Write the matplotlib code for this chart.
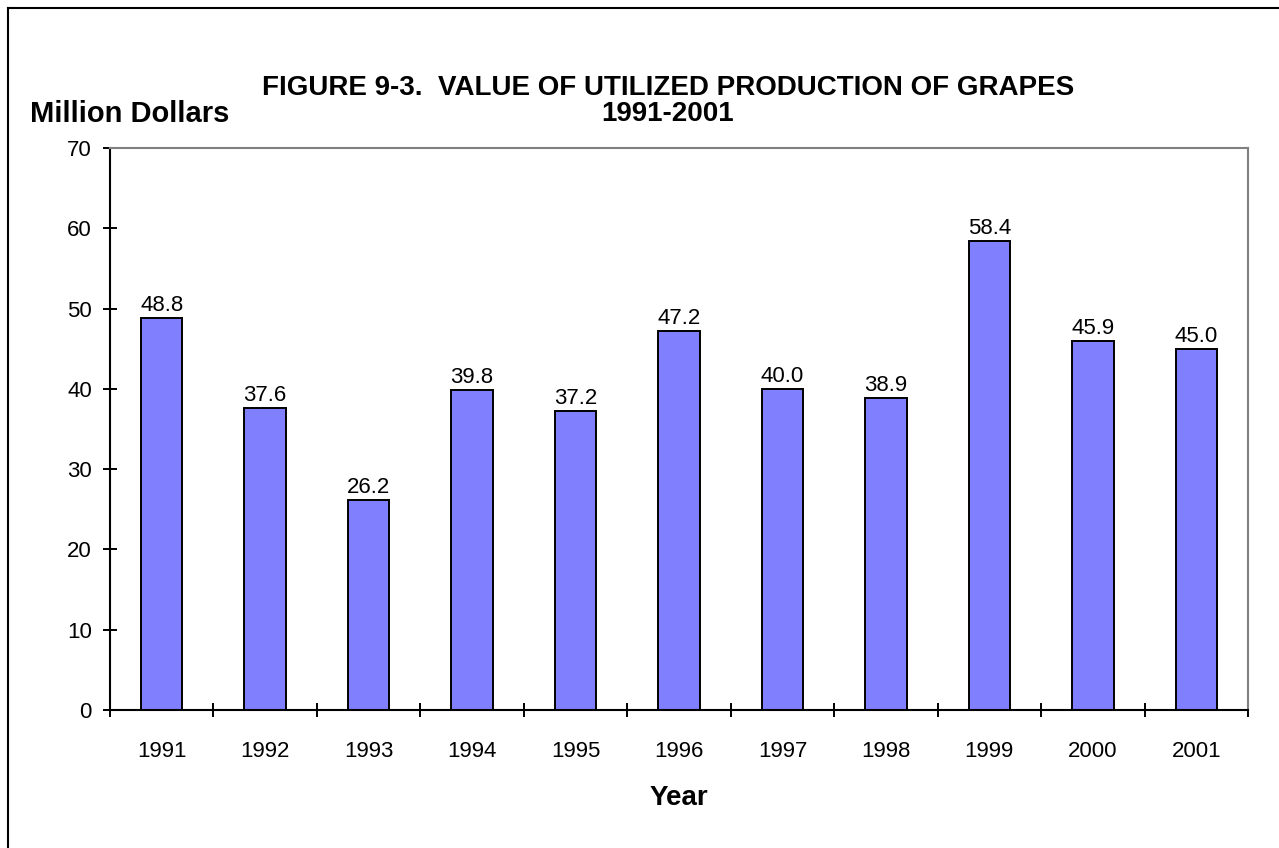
import numpy as np
import matplotlib.pyplot as plt
from matplotlib.lines import Line2D

plt.rcParams['font.family'] = ['Liberation Sans', 'DejaVu Sans']

years = ['1991', '1992', '1993', '1994', '1995', '1996', '1997', '1998', '1999', '2000', '2001']
values = [48.8, 37.6, 26.2, 39.8, 37.2, 47.2, 40.0, 38.9, 58.4, 45.9, 45.0]

fig = plt.figure(figsize=(12.79, 8.48), dpi=100)
ax = fig.add_axes([110/1279, 1-710/848, (1248-110)/1279, (710-148)/848])

x = np.arange(len(years))
bars = ax.bar(x, values, width=0.4, color='#8080FF', edgecolor='black', linewidth=1.4)

for xi, v in zip(x, values):
    ax.annotate('%.1f' % v, (xi, v), xytext=(0, 1.5), textcoords='offset points',
                ha='center', va='bottom', fontsize=16)

ax.set_xlim(-0.5, len(years) - 0.5)
ax.set_ylim(0, 70)
ax.set_yticks(range(0, 71, 10))
ax.set_xticks(x)
ax.set_xticklabels(years)
ax.set_xticks(np.arange(-0.5, len(years), 1), minor=True)

ax.tick_params(axis='x', which='major', length=0, pad=22, labelsize=16)
ax.tick_params(axis='x', which='minor', direction='inout', length=10, width=1.4)
ax.tick_params(axis='y', direction='inout', length=10, width=1.4, pad=8, labelsize=16)

for s in ['left', 'bottom']:
    ax.spines[s].set_color('black')
    ax.spines[s].set_linewidth(1.5)
for s in ['top', 'right']:
    ax.spines[s].set_color('#808080')
    ax.spines[s].set_linewidth(1.5)

fig.text(679/1279, 1-798/848, 'Year', ha='center', va='center', fontsize=20, fontweight='bold')

fig.text(668/1279, 1-88/848, 'FIGURE 9-3.  VALUE OF UTILIZED PRODUCTION OF GRAPES',
         ha='center', va='center', fontsize=20, fontweight='bold')
fig.text(668/1279, 1-114/848, '1991-2001', ha='center', va='center', fontsize=20, fontweight='bold')
fig.text(30/1279, 1-114/848, 'Million Dollars', ha='left', va='center', fontsize=21, fontweight='bold')

# page frame (left and top edges)
fig.add_artist(Line2D([7.5/1279, 7.5/1279], [0, 1-7.5/848], transform=fig.transFigure, color='black', linewidth=1.5))
fig.add_artist(Line2D([7.5/1279, 1], [1-7.5/848, 1-7.5/848], transform=fig.transFigure, color='black', linewidth=1.5))

fig.savefig('out.png', dpi=100)
